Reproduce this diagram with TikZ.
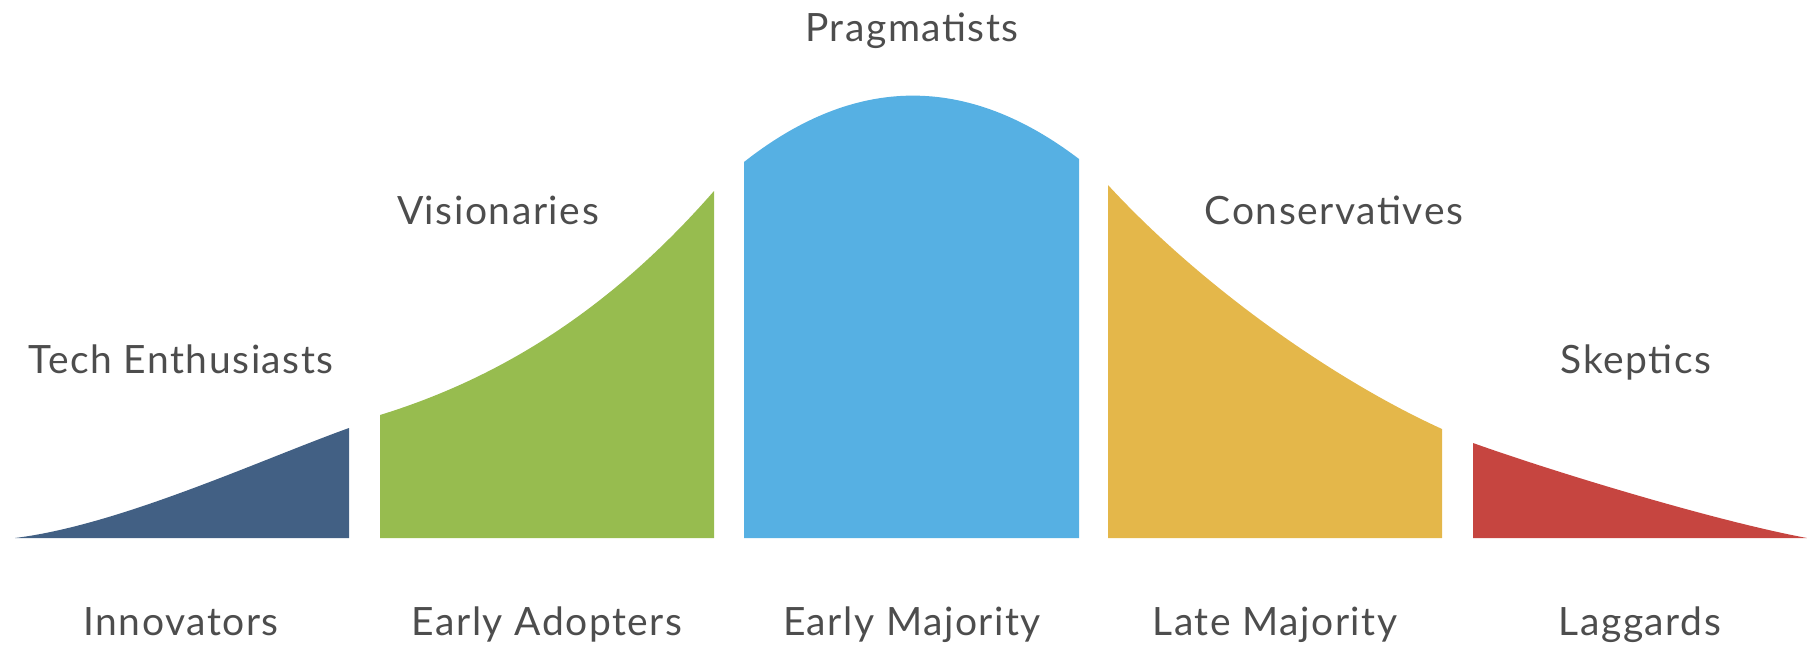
\documentclass[tikz,border=0pt]{standalone}
\usepackage{fontspec}
\setmainfont{Lato}[LetterSpace=4]
\definecolor{cInno}{HTML}{426084}
\definecolor{cEarly}{HTML}{97BC4F}
\definecolor{cMaj}{HTML}{56B0E3}
\definecolor{cLate}{HTML}{E4B74A}
\definecolor{cLag}{HTML}{C64540}
\definecolor{txt}{HTML}{4D4D4D}
\tikzset{
  lbl/.style={anchor=base, inner sep=0pt, text=txt, font=\fontsize{39}{44}\selectfont}
}
\begin{document}
\begin{tikzpicture}[x=1pt,y=-1pt]
\useasboundingbox (0,0) rectangle (1807,646);
% segments
\fill[cInno] (349,538) -- (15,538) .. controls (120,525) and (260,460) .. (349,428) -- cycle;
\fill[cEarly] (380,538) -- (380,415) .. controls (500,378) and (610,310) .. (714,191) -- (714,538) -- cycle;
\fill[cMaj] (744,538) -- (744,162) .. controls (855.7,74) and (967.3,74) .. (1079,159) -- (1079,538) -- cycle;
\fill[cLate] (1108,538) -- (1108,185) .. controls (1200,285) and (1332,379) .. (1442,429) -- (1442,538) -- cycle;
\fill[cLag] (1473,538) -- (1473,443) .. controls (1560,474) and (1720,522) .. (1807,538) -- cycle;
% labels
\node[lbl] (prag) at (912,41) {Pragmatists};
\node[lbl] (vis) at (498,224) {Visionaries};
\node[lbl] (cons) at (1334,224) {Conservatives};
\node[lbl] (tech) at (181,373) {Tech Enthusiasts};
\node[lbl] (skep) at (1636,373) {Skeptics};
\node[lbl] (inno) at (181,635) {Innovators};
\node[lbl] (eadopt) at (547,635) {Early Adopters};
\node[lbl] (emaj) at (912,635) {Early Majority};
\node[lbl] (lmaj) at (1275,635) {Late Majority};
\node[lbl] (lag) at (1640,635) {Laggards};
\end{tikzpicture}
\end{document}
